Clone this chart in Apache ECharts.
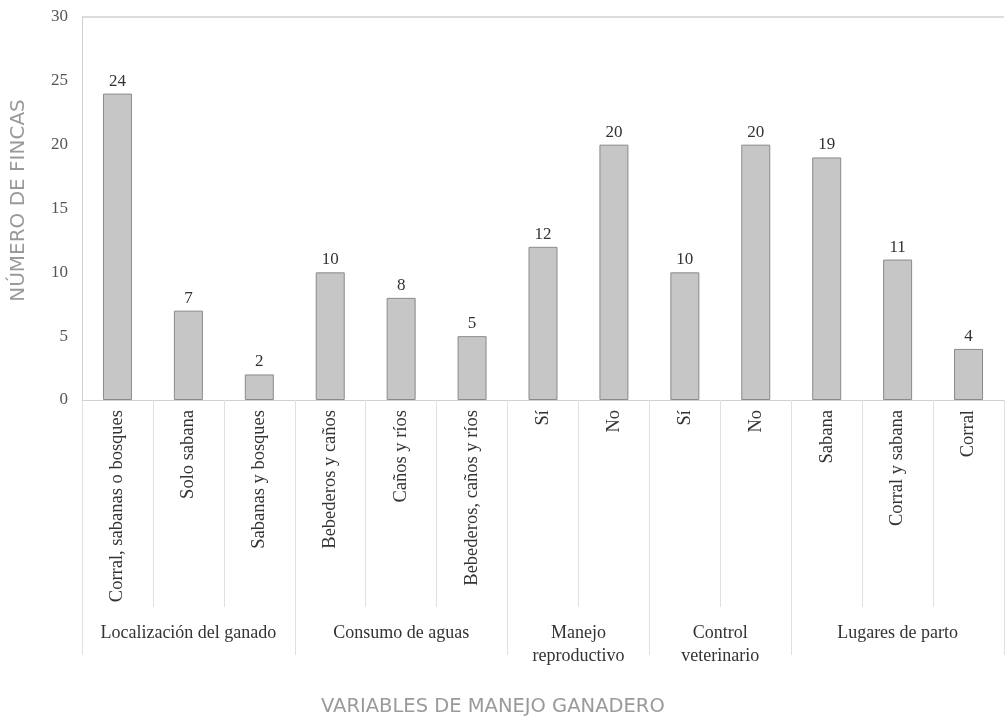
<!DOCTYPE html>
<html>
<head>
<meta charset="utf-8">
<script src="https://cdn.jsdelivr.net/npm/echarts@6/dist/echarts.min.js"></script>
<style>html,body{margin:0;padding:0;background:#fff;}#c{width:1007px;height:722px;}</style>
</head>
<body>
<div id="c"></div>
<script>
const categories = ['Corral, sabanas o bosques','Solo sabana','Sabanas y bosques','Bebederos y caños','Caños y ríos','Bebederos, caños y ríos','Sí','No','Sí','No','Sabana','Corral y sabana','Corral'];
const values = [24, 7, 2, 10, 8, 5, 12, 20, 10, 20, 19, 11, 4];
const groupNames = ['Localización del ganado','Consumo de aguas','Manejo\nreproductivo','Control\nveterinario','Lugares de parto'];
const groupSizes = [3, 3, 2, 2, 3];
const yTicks = [0, 5, 10, 15, 20, 25, 30];
const yTitle = 'NÚMERO DE FINCAS';
const xTitle = 'VARIABLES DE MANEJO GANADERO';

// Build half-step positions for group axis
const nHalf = categories.length * 2;
const groupAxisData = new Array(nHalf + 1).fill('');
const boundaries = new Set([0]);
let pos = 0;
groupNames.forEach((g, i) => {
  const center = pos + groupSizes[i];
  groupAxisData[center] = g;
  pos += groupSizes[i] * 2;
  boundaries.add(pos);
});

const serif = 'Liberation Serif';
const chart = echarts.init(document.getElementById('c'));
chart.setOption({
  animation: false,
  backgroundColor: '#fff',
  grid: { left: 82, right: 1, top: 17, bottom: 322 },
  xAxis: [
    {
      type: 'category',
      data: categories,
      position: 'bottom',
      axisLine: { show: true, lineStyle: { color: '#d0d0d0', width: 1 } },
      axisTick: { show: true, interval: 0, length: 207, lineStyle: { color: '#e0e0e0' } },
      axisLabel: { interval: 0, rotate: 90, margin: 10, color: '#333', fontFamily: serif, fontSize: 18.5 }
    },
    {
      type: 'category',
      data: groupAxisData,
      position: 'bottom',
      boundaryGap: false,
      axisLine: { show: false },
      axisTick: { show: true, length: 255, interval: (idx) => boundaries.has(idx), lineStyle: { color: '#e0e0e0' } },
      axisLabel: { interval: 0, margin: 222, color: '#333', fontFamily: serif, fontSize: 18, lineHeight: 23 }
    }
  ],
  yAxis: {
    type: 'value',
    min: yTicks[0], max: yTicks[yTicks.length - 1], interval: 5,
    name: yTitle,
    nameLocation: 'middle',
    nameGap: 53,
    nameTextStyle: { color: '#9a9a9a', fontFamily: 'DejaVu Sans', fontSize: 20, padding: [0, 0, 0, 16] },
    axisLine: { show: true, lineStyle: { color: '#d0d0d0' } },
    axisTick: { show: false },
    axisLabel: { margin: 14, color: '#555', fontFamily: serif, fontSize: 17 },
    splitLine: { show: true, lineStyle: { color: ['transparent','transparent','transparent','transparent','transparent','transparent','#dcdcdc'], width: 2 } }
  },
  graphic: [{
    type: 'text', left: 321, top: 697,
    style: { text: xTitle, fill: '#9a9a9a', font: '19.5px "DejaVu Sans"' }
  }],
  series: [{
    type: 'bar',
    xAxisIndex: 0,
    data: values,
    barWidth: 29,
    itemStyle: { color: '#c6c6c6', borderColor: '#8a8a8a', borderWidth: 1 },
    label: { show: true, position: 'top', distance: 4, color: '#333', fontFamily: serif, fontSize: 17 }
  }]
});
</script>
</body>
</html>
